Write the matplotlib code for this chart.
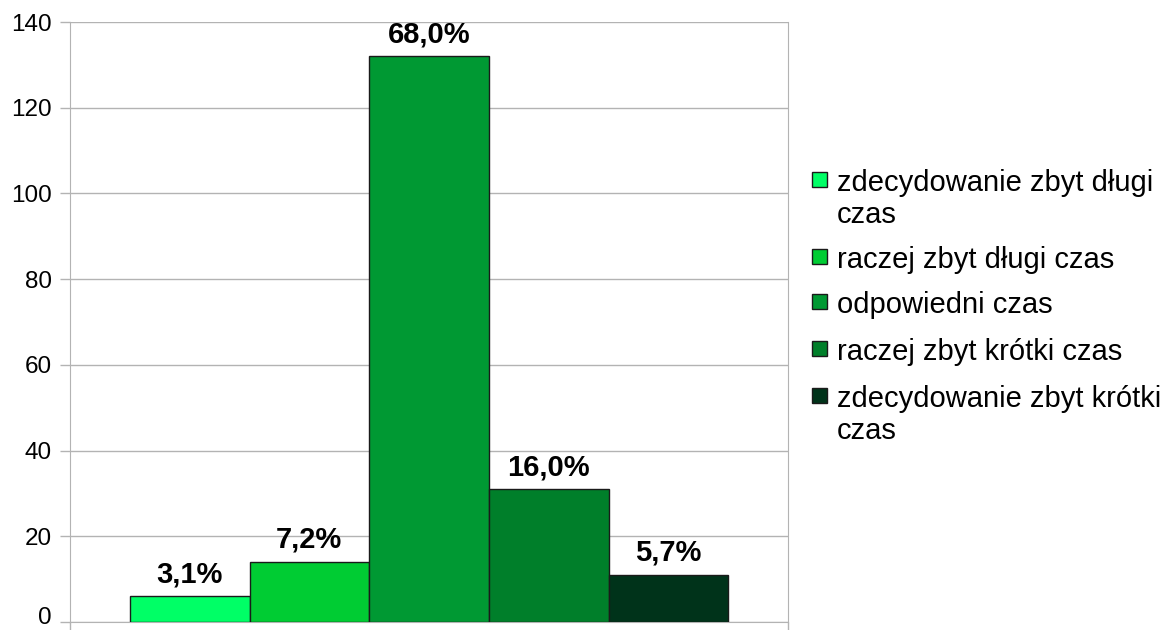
import matplotlib.pyplot as plt
import matplotlib.transforms as mtransforms

categories = ["zdecydowanie zbyt długi\nczas", "raczej zbyt długi czas", "odpowiedni czas",
              "raczej zbyt krótki czas", "zdecydowanie zbyt krótki\nczas"]
values = [6, 14, 132, 31, 11]
percent_labels = ["3,1%", "7,2%", "68,0%", "16,0%", "5,7%"]
colors = ["#00ff66", "#00cc33", "#009933", "#007f2a", "#00331a"]

plt.rcParams['font.family'] = ['Liberation Sans', 'DejaVu Sans']

W, H = 1169, 630
fig = plt.figure(figsize=(W / 100, H / 100), dpi=100)
ax = fig.add_axes([70 / W, 1 - 622 / H, 718 / W, 600 / H])

x = list(range(len(values)))
ax.bar(x, values, width=1.0, color=colors, edgecolor="#1a1a1a", linewidth=1, zorder=3)
for xi, v, lab in zip(x, values, percent_labels):
    ax.text(xi, v + 3.3, lab, ha="center", va="baseline", fontsize=21, fontweight="bold", zorder=4)

ax.set_xlim(-1.0, 5.0)
ax.set_ylim(0, 140)
ax.set_yticks(range(0, 141, 20))
ax.set_xticks([-1.0, 5.0])
ax.set_xticklabels(["", ""])
ax.yaxis.grid(True, color="#b3b3b3", linewidth=1, zorder=0)
ax.tick_params(axis="y", labelsize=17.5, length=7, width=1, color="#b3b3b3", pad=6)
ax.tick_params(axis="x", length=6, width=1, color="#b3b3b3")
for s in ["left", "bottom", "right"]:
    ax.spines[s].set_color("#b3b3b3")
ax.spines["top"].set_visible(False)

# lift the "0" label a little so it stays inside the picture
zero_lab = ax.get_yticklabels()[0]
zero_lab.set_transform(zero_lab.get_transform() +
                       mtransforms.ScaledTranslation(0, 6 / 100, fig.dpi_scale_trans))

# legend drawn by hand: square aligned with first text line
baselines = [191, 268, 313, 360, 407]
for y, c, lab in zip(baselines, colors, categories):
    fig.patches.append(plt.Rectangle((812 / W, 1 - (y - 4) / H), 15 / W, 15 / H,
                                     facecolor=c, edgecolor="#1a1a1a", linewidth=1,
                                     transform=fig.transFigure, figure=fig))
    for i, line in enumerate(lab.split("\n")):
        fig.text(837 / W, 1 - (y + i * 32) / H, line, ha="left", va="baseline", fontsize=21)

fig.savefig("out.png", dpi=100)
